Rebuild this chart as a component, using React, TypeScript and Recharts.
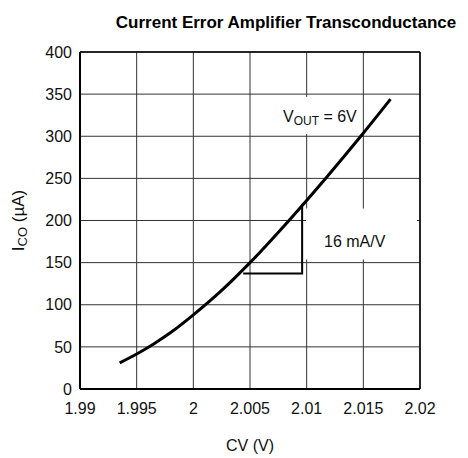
import React from 'react'
import { LineChart, Line, XAxis, YAxis, CartesianGrid, ReferenceLine, ReferenceDot, Label } from 'recharts'

// CV (V) vs I_CO (uA), VOUT = 6V
const cv = [1.9935, 1.995, 1.9965, 1.998, 2.0, 2.0025, 2.005, 2.0085, 2.0118, 2.0149, 2.0174]
const ico = [31, 41.5, 53.5, 67, 88, 117, 150, 201, 252, 302, 344]

// slope triangle (16 mA/V)
const triX = [2.0044, 2.0096, 2.0096]
const triY = [137, 137, 220]

const xTicks = [1.99, 1.995, 2, 2.005, 2.01, 2.015, 2.02]
const yTicks = [0, 50, 100, 150, 200, 250, 300, 350, 400]

const curve = cv.map((x, i) => ({ x, y: ico[i] }))
const tri = triX.map((x, i) => ({ x, y: triY[i] }))

const FONT = '"Liberation Sans", Arial, Helvetica, sans-serif'
const tick = { fontSize: 16, fill: '#111', fontFamily: FONT }

export default function App() {
  return (
    <div style={{ position: 'absolute', left: 0, top: 0, width: 468, height: 458, background: '#fff' }}>
      <LineChart width={468} height={458} margin={{ top: 52, right: 48, left: 0, bottom: 0 }}>
        <text x={286} y={28} textAnchor="middle" fontFamily={FONT} fontWeight="bold" fontSize={17} fill="#000">
          Current Error Amplifier Transconductance
        </text>
        <CartesianGrid stroke="#333" strokeWidth={1} />
        <XAxis
          dataKey="x" type="number" domain={[1.99, 2.02]} ticks={xTicks}
          tickFormatter={(v: number) => String(v)} tick={tick}
          tickSize={0} tickMargin={14} height={69}
          axisLine={{ stroke: '#000', strokeWidth: 2 }} allowDataOverflow
        >
          <Label content={(p: any) => {
            const vb = p.viewBox
            return <text x={vb.x + vb.width / 2} y={vb.y + 62} textAnchor="middle" fontFamily={FONT} fontSize={16} fill="#111">CV (V)</text>
          }} />
        </XAxis>
        <YAxis
          type="number" domain={[0, 400]} ticks={yTicks} tick={tick}
          tickSize={0} tickMargin={8} width={80}
          axisLine={{ stroke: '#000', strokeWidth: 2 }}
        >
          <Label content={(p: any) => {
            const vb = p.viewBox
            const cx = 24, cy = vb.y + vb.height / 2
            return (
              <text x={cx} y={cy} transform={`rotate(-90 ${cx} ${cy})`} textAnchor="middle" fontFamily={FONT} fontSize={17} fill="#111">
                I<tspan fontSize={13} dy={3}>CO</tspan><tspan dy={-3}> (µA)</tspan>
              </text>
            )
          }} />
        </YAxis>
        <ReferenceLine y={400} stroke="#000" strokeWidth={1.5} />
        <ReferenceLine x={2.02} stroke="#000" strokeWidth={1.5} />
        <ReferenceDot x={2.00791} y={317} r={0} label={(p: any) => {
          const vb = p.viewBox
          return (
            <g>
              <rect x={vb.x - 3} y={vb.y - 25} width={78} height={37} fill="#fff" />
              <text x={vb.x} y={vb.y} fontFamily={FONT} fontSize={16} fill="#111">
                V<tspan fontSize={12} dy={3}>OUT</tspan><tspan dy={-3}> = 6V</tspan>
              </text>
            </g>
          )
        }} />
        <ReferenceDot x={2.01153} y={168} r={0} label={(p: any) => {
          const vb = p.viewBox
          return (
            <g>
              <rect x={vb.x - 18} y={vb.y - 39} width={111} height={51} fill="#fff" />
              <text x={vb.x} y={vb.y} fontFamily={FONT} fontSize={16} fill="#111">16 mA/V</text>
            </g>
          )
        }} />
        <Line data={curve} dataKey="y" type="monotone" stroke="#000" strokeWidth={3} dot={false} isAnimationActive={false} />
        <Line data={tri} dataKey="y" type="linear" stroke="#000" strokeWidth={2} dot={false} isAnimationActive={false} />
      </LineChart>
    </div>
  )
}
